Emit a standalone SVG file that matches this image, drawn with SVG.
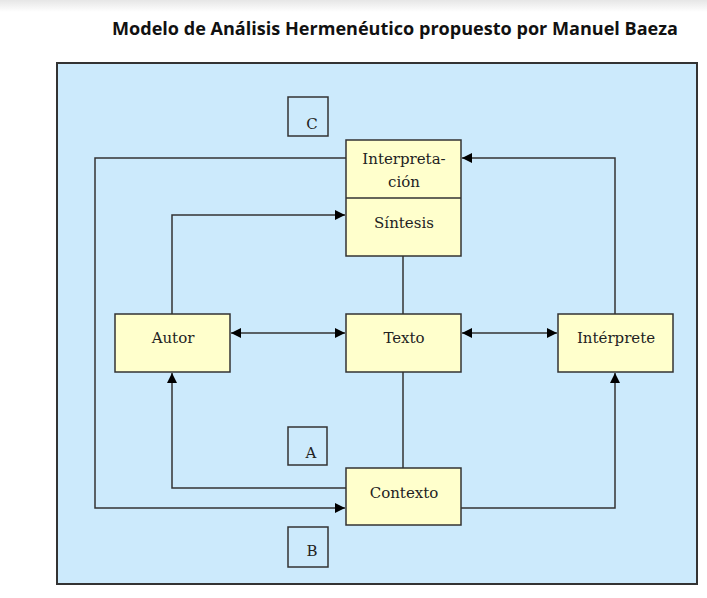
<svg xmlns="http://www.w3.org/2000/svg" width="707" height="598" viewBox="0 0 707 598">
<defs>
<linearGradient id="topshade" x1="0" y1="0" x2="0" y2="1"><stop offset="0" stop-color="#e6e6e6"/><stop offset="1" stop-color="#ffffff"/></linearGradient>
<marker id="arr" viewBox="0 0 10 10" refX="10" refY="5" markerWidth="10" markerHeight="10" markerUnits="userSpaceOnUse" orient="auto-start-reverse">
<path d="M0,0 L10,5 L0,10 z" fill="#000"/>
</marker>
<style>
.box{fill:#ffffcc;stroke:#333;stroke-width:1.5}
.lbl{fill:none;stroke:#333;stroke-width:1.5}
.t{font-family:"DejaVu Serif","Liberation Serif",serif;font-size:15px;fill:#222;text-anchor:middle}
.c{fill:none;stroke:#333;stroke-width:1.5}
</style>
</defs>
<rect width="707" height="598" fill="#fff"/>
<rect width="707" height="12" fill="url(#topshade)"/>
<text x="395" y="35" font-family="'Open Sans','Liberation Sans',sans-serif" font-weight="bold" font-size="17" text-anchor="middle" textLength="566" lengthAdjust="spacingAndGlyphs" fill="#111">Modelo de Análisis Hermenéutico propuesto por Manuel Baeza</text>
<rect x="57" y="63" width="640" height="521" fill="#cceafc" stroke="#333" stroke-width="2"/>
<g id="connectors">
<line class="c" x1="231" y1="333" x2="345" y2="333" marker-start="url(#arr)" marker-end="url(#arr)"/>
<line class="c" x1="462" y1="333" x2="557" y2="333" marker-start="url(#arr)" marker-end="url(#arr)"/>
<line class="c" x1="403" y1="256" x2="403" y2="314"/>
<line class="c" x1="403" y1="372" x2="403" y2="468"/>
<polyline class="c" points="172,314 172,215 345,215" marker-end="url(#arr)"/>
<polyline class="c" points="346,488 172,488 172,373" marker-end="url(#arr)"/>
<polyline class="c" points="346,158 95,158 95,508 345,508" marker-end="url(#arr)"/>
<polyline class="c" points="461,508 615,508 615,373" marker-end="url(#arr)"/>
<polyline class="c" points="615,314 615,158 462,158" marker-end="url(#arr)"/>
</g>
<g id="interpretacion-sintesis">
<rect class="box" x="346" y="140" width="115" height="116"/>
<line class="c" x1="346" y1="198" x2="461" y2="198"/>
<text class="t" x="404" y="164">Interpreta-</text>
<text class="t" x="404" y="187">ción</text>
<text class="t" x="404" y="228">Síntesis</text>
</g>
<g id="autor">
<rect class="box" x="115" y="314" width="115" height="58"/>
<text class="t" x="173" y="343">Autor</text>
</g>
<g id="texto">
<rect class="box" x="346" y="314" width="115" height="58"/>
<text class="t" x="404" y="343">Texto</text>
</g>
<g id="interprete">
<rect class="box" x="558" y="314" width="115" height="58"/>
<text class="t" x="616" y="343">Intérprete</text>
</g>
<g id="contexto">
<rect class="box" x="346" y="468" width="115" height="57"/>
<text class="t" x="404" y="498">Contexto</text>
</g>
<g id="label-c">
<rect class="lbl" x="288" y="97" width="40" height="39"/>
<text class="t" x="312" y="129">C</text>
</g>
<g id="label-a">
<rect class="lbl" x="288" y="427" width="39" height="38"/>
<text class="t" x="311" y="458">A</text>
</g>
<g id="label-b">
<rect class="lbl" x="288" y="527" width="40" height="40"/>
<text class="t" x="312" y="556">B</text>
</g>
</svg>
